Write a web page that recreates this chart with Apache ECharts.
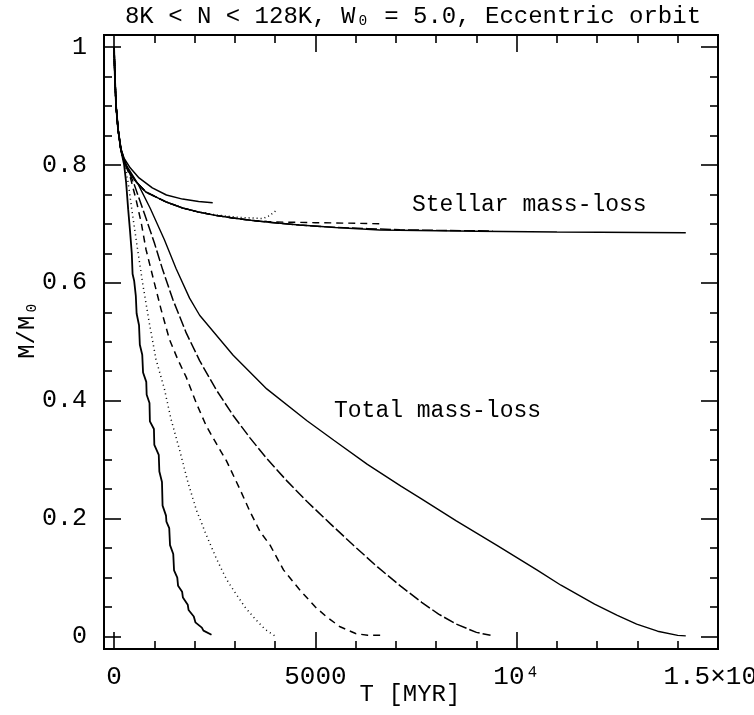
<!DOCTYPE html>
<html>
<head>
<meta charset="utf-8">
<script src="https://cdn.jsdelivr.net/npm/echarts@6/dist/echarts.min.js"></script>
<style>html,body{margin:0;padding:0;background:#fff}#c{width:754px;height:715px}</style>
</head>
<body>
<div id="c"></div>
<script>
// ---- tick values / labels ----
var xTickVals = [0, 5000, 10000, 15000];
var xTickLabels = ['0', '5000', '10\u2074', '1.5\u00d710\u2074'];
var xMinorVals = [1000, 2000, 3000, 4000, 6000, 7000, 8000, 9000, 11000, 12000, 13000, 14000];
var yTickVals = [0, 0.2, 0.4, 0.6, 0.8, 1];
var yTickLabels = ['0', '0.2', '0.4', '0.6', '0.8', '1'];
var yMinorVals = [0.05, 0.1, 0.15, 0.25, 0.3, 0.35, 0.45, 0.5, 0.55, 0.65, 0.7, 0.75, 0.85, 0.9, 0.95];

// ---- stellar mass-loss curves [T (Myr), M/M0] ----
var stellar8K = [[0,1],[20,0.95],[50,0.9],[100,0.86],[170,0.828],[250,0.811],[400,0.795],[620,0.778],[950,0.761],[1300,0.749],[1700,0.742],[2100,0.738],[2450,0.736]];
var stellar16K = [[0,1],[20,0.95],[50,0.9],[100,0.86],[170,0.825],[250,0.806],[370,0.789],[540,0.772],[790,0.754],[1300,0.737],[1700,0.727],[2100,0.72],[2550,0.715],[3100,0.711],[3700,0.709],[3830,0.713],[3960,0.719],[4030,0.723]];
var stellar32K = [[0,1],[20,0.95],[50,0.9],[100,0.86],[170,0.825],[250,0.806],[370,0.789],[540,0.772],[790,0.754],[1300,0.737],[1700,0.727],[2100,0.72],[2550,0.714],[2950,0.71],[3400,0.706],[3800,0.704],[4200,0.703],[5000,0.702],[6000,0.701],[6700,0.700]];
var stellar64K = [[0,1],[20,0.95],[50,0.9],[100,0.86],[170,0.825],[250,0.806],[370,0.789],[540,0.772],[790,0.754],[1300,0.737],[1700,0.727],[2100,0.72],[2550,0.714],[2950,0.71],[3400,0.706],[3800,0.703],[4600,0.698],[5500,0.694],[6300,0.692],[7100,0.69],[8000,0.689],[9400,0.688]];
var stellar128K = [[0,1],[20,0.95],[50,0.9],[100,0.86],[170,0.825],[250,0.806],[370,0.789],[540,0.772],[790,0.754],[1300,0.737],[1700,0.727],[2100,0.72],[2550,0.714],[2950,0.71],[3400,0.706],[3800,0.703],[4600,0.698],[5500,0.694],[6600,0.6895],[9000,0.6875],[11000,0.686],[14200,0.685]];

// ---- total mass-loss curves ----
var total8K = [[0,1],[20,0.95],[50,0.9],[100,0.86],[170,0.826],[250,0.8],[300,0.77],[350,0.725],[400,0.685],[440,0.65],[460,0.615],[500,0.603],[540,0.578],[560,0.548],[620,0.528],[640,0.495],[700,0.478],[720,0.448],[800,0.432],[810,0.41],[880,0.396],[890,0.365],[990,0.352],[1000,0.325],[1110,0.308],[1125,0.28],[1190,0.262],[1205,0.222],[1290,0.205],[1300,0.195],[1370,0.184],[1390,0.155],[1470,0.14],[1490,0.112],[1570,0.1],[1590,0.086],[1690,0.076],[1710,0.066],[1830,0.054],[1850,0.045],[1980,0.034],[2020,0.024],[2180,0.015],[2220,0.01],[2420,0.003]];
var total16K = [[0,1],[20,0.95],[50,0.9],[100,0.86],[170,0.826],[250,0.805],[350,0.77],[450,0.72],[583,0.657],[708,0.6],[875,0.532],[1042,0.47],[1250,0.42],[1417,0.368],[1625,0.317],[1833,0.262],[2042,0.215],[2292,0.172],[2542,0.132],[2792,0.097],[3000,0.075],[3250,0.05],[3500,0.03],[3750,0.012],[3990,0.001]];
var total32K = [[0,1],[20,0.95],[50,0.9],[100,0.86],[170,0.826],[250,0.806],[400,0.78],[550,0.74],[680,0.7],[792,0.657],[1000,0.6],[1167,0.555],[1375,0.504],[1583,0.47],[1792,0.44],[2042,0.396],[2292,0.357],[2542,0.327],[2792,0.298],[3125,0.25],[3375,0.212],[3625,0.178],[3875,0.155],[4208,0.113],[4600,0.08],[5000,0.05],[5250,0.035],[5600,0.017],[6000,0.005],[6300,0.002],[6650,0.002]];
var total64K = [[0,1],[20,0.95],[50,0.9],[100,0.86],[170,0.826],[300,0.8],[500,0.767],[750,0.718],[1000,0.668],[1208,0.622],[1458,0.572],[1792,0.515],[2125,0.468],[2542,0.418],[2958,0.375],[3375,0.337],[3792,0.302],[4292,0.264],[4792,0.229],[5375,0.191],[5958,0.154],[6542,0.118],[7125,0.085],[7640,0.058],[8060,0.038],[8500,0.021],[9000,0.007],[9350,0.002]];
var total128K = [[0,1],[20,0.95],[50,0.9],[100,0.86],[170,0.826],[300,0.8],[600,0.767],[900,0.726],[1250,0.673],[1542,0.624],[1875,0.574],[2125,0.545],[2958,0.477],[3792,0.42],[4792,0.366],[5458,0.333],[6292,0.292],[7125,0.255],[7625,0.234],[8500,0.196],[9500,0.155],[10500,0.113],[11100,0.087],[11935,0.055],[12500,0.036],[12980,0.021],[13500,0.009],[14000,0.002],[14200,0.001]];

var LFONT = '"Liberation Mono"';
var chart = echarts.init(document.getElementById('c'), null, {renderer: 'canvas'});

function xAxisDef(pos, vals, len, withLabel) {
  return {
    type: 'value', position: pos, min: -250, max: 15000,
    axisLine: {show: true, onZero: false, lineStyle: {color: '#000', width: 2}},
    axisTick: {show: true, inside: true, length: len, customValues: vals, lineStyle: {color: '#000', width: 1.6}},
    axisLabel: withLabel ? {show: true, customValues: xTickVals, margin: 15, color: '#000', fontFamily: 'Liberation Mono', fontSize: 26,
      formatter: function (v) { var i = xTickVals.indexOf(v); return i >= 0 ? xTickLabels[i] : ''; }} : {show: false},
    splitLine: {show: false}
  };
}
function yAxisDef(pos, vals, len, withLabel) {
  return {
    type: 'value', position: pos, min: -0.0212, max: 1.0204,
    axisLine: {show: true, onZero: false, lineStyle: {color: '#000', width: 2}},
    axisTick: {show: true, inside: true, length: len, customValues: vals, lineStyle: {color: '#000', width: 1.6}},
    axisLabel: withLabel ? {show: true, customValues: yTickVals, margin: 17, color: '#000', fontFamily: 'Liberation Mono', fontSize: 25,
      formatter: function (v) { var i = yTickVals.indexOf(v); return i >= 0 ? yTickLabels[i] : ''; }} : {show: false},
    splitLine: {show: false}
  };
}

function ser(data, type, width) {
  return {type: 'line', data: data, xAxisIndex: 0, yAxisIndex: 0, symbol: 'none', smooth: false,
    lineStyle: {color: '#000', width: width, type: type}, z: 3, silent: true};
}

var option = {
  animation: false,
  backgroundColor: '#fff',
  grid: {left: 104, right: 36, top: 35, bottom: 66, containLabel: false, outerBoundsMode: 'none'},
  xAxis: [
    xAxisDef('bottom', xTickVals, 17, true),
    xAxisDef('bottom', xMinorVals, 8, false),
    xAxisDef('top', xTickVals, 17, false),
    xAxisDef('top', xMinorVals, 8, false)
  ],
  yAxis: [
    yAxisDef('left', yTickVals, 17, true),
    yAxisDef('left', yMinorVals, 8, false),
    yAxisDef('right', yTickVals, 17, false),
    yAxisDef('right', yMinorVals, 8, false)
  ],
  series: [
    ser(stellar8K, 'solid', 1.5),
    ser(stellar16K, [1, 3], 1.5),
    ser(stellar32K, [7, 5], 1.4),
    ser(stellar64K, [11, 3], 1.4),
    ser(stellar128K, 'solid', 1.5),
    ser(total8K, 'solid', 1.8),
    ser(total16K, [1, 3.5], 1.5),
    ser(total32K, [7, 5], 1.5),
    ser(total64K, [11, 3], 1.5),
    ser(total128K, 'solid', 1.4)
  ],
  graphic: [
    {type: 'text', x: 413, y: 17, style: {text: '8K < N < 128K, W\u2080 = 5.0, Eccentric orbit', font: '24px ' + LFONT, fill: '#000', textAlign: 'center', textVerticalAlign: 'middle'}},
    {type: 'text', x: 410, y: 695, style: {text: 'T [MYR]', font: '24px ' + LFONT, fill: '#000', textAlign: 'center', textVerticalAlign: 'middle'}},
    {type: 'text', x: 28, y: 330, rotation: Math.PI / 2, style: {text: 'M/M\u2080', font: '24px ' + LFONT, fill: '#000', textAlign: 'center', textVerticalAlign: 'middle'}},
    {type: 'text', x: 412, y: 205, style: {text: 'Stellar mass-loss', font: '23px ' + LFONT, fill: '#000', textAlign: 'left', textVerticalAlign: 'middle'}},
    {type: 'text', x: 334, y: 411, style: {text: 'Total mass-loss', font: '23px ' + LFONT, fill: '#000', textAlign: 'left', textVerticalAlign: 'middle'}}
  ]
};
chart.setOption(option);
</script>
</body>
</html>
